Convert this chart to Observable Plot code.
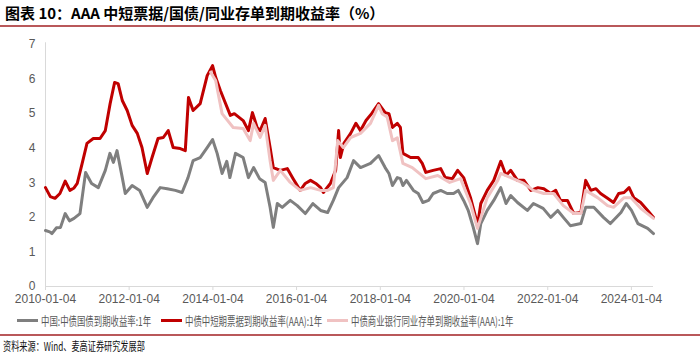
<!DOCTYPE html>
<html>
<head>
<meta charset="utf-8">
<script src="https://cdn.jsdelivr.net/npm/d3@7"></script>
<script src="https://cdn.jsdelivr.net/npm/@observablehq/plot@0.6"></script>
<style>
  html, body { margin: 0; padding: 0; background: #fff; }
  #wrap { position: relative; width: 700px; height: 355px; overflow: hidden; font-family: "Noto Sans CJK SC", sans-serif; }
  #title { position: absolute; left: 5px; top: 3px; font-size: 15px; font-weight: bold; color: #000; white-space: nowrap; line-height: 20px; }
  .rule { position: absolute; left: 0; width: 700px; height: 2px; background: #b9585a; }
  #chart { position: absolute; left: 0; top: 28px; }
  .leg { position: absolute; top: 312px; height: 16px; display: flex; align-items: center; white-space: nowrap; }
  .sw { width: 21px; height: 3px; margin-right: 3px; }
  .lt { font-size: 12px; color: #595959; display: inline-block; transform: scaleX(0.7); transform-origin: left center; }
  #source { position: absolute; left: 3px; top: 338px; font-size: 12px; color: #111; white-space: nowrap; transform: scaleX(0.68); transform-origin: left center; line-height: 16px; }
</style>
</head>
<body>
<div id="wrap">
  <div id="title">图表 10：AAA 中短票据/国债/同业存单到期收益率（%）</div>
  <div class="rule" style="top:25px"></div>
  <div id="chart"></div>
  <div class="leg" style="left:17px"><div class="sw" style="background:#7f7f7f"></div><span class="lt">中国:中债国债到期收益率:1年</span></div>
  <div class="leg" style="left:161px"><div class="sw" style="background:#c00000"></div><span class="lt">中债中短期票据到期收益率(AAA):1年</span></div>
  <div class="leg" style="left:327px"><div class="sw" style="background:#f0c2c2"></div><span class="lt">中债商业银行同业存单到期收益率(AAA):1年</span></div>
  <div class="rule" style="top:334px"></div>
  <div id="source">资料来源：Wind、麦高证券研究发展部</div>
</div>
<script>
// Tick labels
const xTickLabels = ["2010-01-04","2012-01-04","2014-01-04","2016-01-04","2018-01-04","2020-01-04","2022-01-04","2024-01-04"];
const yTickValues = [0,1,2,3,4,5,6,7];

// 中国:中债国债到期收益率:1年
const govDates = ["2010-01-04","2010-02-10","2010-03-01","2010-04-10","2010-05-15","2010-06-25","2010-08-01","2010-09-10","2010-11-01","2010-12-20","2011-02-10","2011-04-10","2011-06-10","2011-07-20","2011-08-20","2011-09-20","2011-11-05","2011-12-01","2012-01-30","2012-04-05","2012-06-10","2012-07-30","2012-10-01","2012-12-01","2013-02-10","2013-04-10","2013-06-01","2013-07-15","2013-09-15","2013-11-15","2014-01-01","2014-02-10","2014-03-25","2014-05-05","2014-06-01","2014-07-20","2014-09-25","2014-11-10","2014-12-25","2015-02-15","2015-04-05","2015-05-18","2015-06-15","2015-07-20","2015-09-01","2015-11-10","2016-01-10","2016-03-20","2016-05-25","2016-08-01","2016-10-01","2016-11-20","2017-01-05","2017-03-20","2017-05-15","2017-07-15","2017-10-10","2017-12-20","2018-02-15","2018-03-20","2018-04-20","2018-06-01","2018-06-28","2018-07-20","2018-08-20","2018-10-20","2018-12-01","2019-01-10","2019-03-01","2019-04-10","2019-06-15","2019-08-10","2019-10-05","2019-11-15","2020-01-01","2020-02-10","2020-03-25","2020-05-01","2020-05-30","2020-07-25","2020-09-20","2020-11-20","2021-01-05","2021-02-15","2021-04-15","2021-07-10","2021-09-01","2021-11-25","2022-01-30","2022-04-01","2022-05-20","2022-07-20","2022-10-20","2022-12-01","2023-02-10","2023-05-05","2023-07-05","2023-10-05","2023-11-20","2024-01-05","2024-03-01","2024-05-25","2024-07-15"];
const govValues = [1.62,1.58,1.53,1.70,1.71,2.11,1.90,1.97,2.11,3.30,2.98,2.86,3.36,3.85,3.59,3.93,3.15,2.69,2.92,2.78,2.29,2.57,2.86,2.83,2.78,2.72,3.15,3.64,3.73,4.02,4.25,3.85,3.27,3.62,3.15,3.85,3.73,3.15,3.44,3.12,3.01,2.29,1.71,2.40,2.29,2.49,2.34,2.11,2.40,2.20,2.14,2.49,2.86,3.15,3.64,3.44,3.56,3.79,3.44,3.27,2.92,3.15,3.12,2.92,3.07,2.78,2.69,2.43,2.49,2.69,2.78,2.69,2.69,2.78,2.49,2.20,1.71,1.24,1.82,2.20,2.49,2.86,2.40,2.63,2.43,2.20,2.40,2.26,2.00,2.20,2.00,1.76,1.82,2.29,2.29,2.00,1.82,2.14,2.40,2.20,1.82,1.68,1.53];

// 中债中短期票据到期收益率(AAA):1年
const cpDates = ["2010-01-04","2010-02-15","2010-03-28","2010-05-10","2010-06-25","2010-08-05","2010-09-10","2010-10-08","2010-11-20","2011-01-01","2011-02-25","2011-04-25","2011-06-10","2011-07-22","2011-08-30","2011-09-30","2011-11-05","2011-12-18","2012-01-30","2012-03-15","2012-04-25","2012-06-10","2012-07-22","2012-09-12","2012-10-28","2012-12-10","2013-01-22","2013-03-25","2013-05-08","2013-06-05","2013-07-15","2013-09-15","2013-11-15","2014-01-01","2014-01-28","2014-03-10","2014-04-20","2014-06-05","2014-07-10","2014-09-25","2014-11-10","2014-12-15","2015-01-25","2015-02-20","2015-04-05","2015-05-18","2015-06-15","2015-08-15","2015-10-15","2015-12-05","2016-02-05","2016-03-20","2016-05-05","2016-06-20","2016-08-01","2016-08-25","2016-10-25","2016-12-10","2017-01-05","2017-01-20","2017-02-20","2017-04-20","2017-06-05","2017-07-15","2017-09-01","2017-10-20","2017-12-20","2018-02-15","2018-03-20","2018-04-20","2018-06-01","2018-06-28","2018-07-20","2018-09-25","2018-12-01","2019-01-05","2019-02-05","2019-04-10","2019-06-15","2019-07-25","2019-09-25","2019-11-10","2020-01-01","2020-03-01","2020-04-15","2020-05-01","2020-05-30","2020-07-25","2020-09-20","2020-11-20","2021-01-05","2021-02-15","2021-04-15","2021-06-10","2021-08-10","2021-10-10","2021-12-01","2022-01-30","2022-03-15","2022-04-25","2022-06-25","2022-08-20","2022-10-20","2022-12-01","2023-01-15","2023-03-01","2023-04-10","2023-06-10","2023-08-01","2023-09-15","2023-11-01","2023-12-15","2024-01-25","2024-03-25","2024-05-25","2024-07-15"];
const cpValues = [2.86,2.60,2.55,2.69,3.05,2.78,2.85,2.98,3.56,4.14,4.28,4.28,4.51,5.29,5.90,5.87,5.38,5.09,4.66,4.43,4.02,3.27,3.73,4.28,4.31,4.51,4.02,3.99,3.93,5.47,5.09,5.29,6.10,6.39,6.05,5.67,5.33,4.95,5.00,4.80,4.51,5.03,4.60,4.51,4.86,4.02,3.44,3.36,3.41,3.12,2.78,2.98,3.07,2.98,2.86,2.72,2.98,3.36,4.51,3.73,4.14,4.43,4.72,4.51,4.80,5.00,5.29,5.03,5.00,4.60,4.72,4.60,3.85,3.73,3.73,3.56,3.30,3.36,3.41,3.15,3.12,3.36,3.15,2.57,2.00,1.76,2.40,2.78,3.07,3.62,3.21,3.36,3.07,3.07,2.78,2.86,2.83,2.69,2.78,2.49,2.49,2.11,2.14,3.07,2.78,2.83,2.69,2.55,2.43,2.69,2.72,2.86,2.57,2.43,2.20,2.00];

// 中债商业银行同业存单到期收益率(AAA):1年
const ncdDates = ["2013-12-15","2014-01-28","2014-03-25","2014-06-30","2014-09-25","2014-11-25","2014-12-25","2015-02-20","2015-04-05","2015-05-18","2015-06-15","2015-08-15","2015-11-10","2016-02-05","2016-05-05","2016-08-01","2016-10-01","2016-11-20","2016-12-28","2017-02-15","2017-04-20","2017-07-15","2017-10-10","2017-12-20","2018-01-20","2018-03-05","2018-04-20","2018-06-01","2018-07-20","2018-10-10","2019-02-05","2019-05-20","2019-09-01","2019-12-05","2020-03-01","2020-05-01","2020-07-25","2020-10-25","2020-11-20","2021-02-15","2021-06-10","2021-09-01","2021-12-01","2022-02-25","2022-05-20","2022-08-20","2022-10-20","2022-12-01","2023-03-15","2023-06-10","2023-08-01","2023-11-01","2024-01-01","2024-03-25","2024-07-15"];
const ncdValues = [6.20,5.96,5.00,4.60,4.57,4.22,4.72,4.31,4.66,3.64,3.07,3.36,3.01,2.78,2.86,2.78,2.78,2.86,4.22,4.02,4.31,4.43,4.72,5.24,5.00,4.90,4.22,4.30,3.56,3.44,3.12,3.21,3.01,3.12,2.40,1.68,2.57,3.07,3.27,3.15,2.98,2.78,2.69,2.69,2.34,2.11,2.11,2.78,2.57,2.34,2.29,2.57,2.57,2.26,1.97];

const toRows = (dates, values) => dates.map((d, i) => ({date: new Date(d), value: values[i]}));
const gov = toRows(govDates, govValues);
const cp = toRows(cpDates, cpValues);
const ncd = toRows(ncdDates, ncdValues);

const chart = Plot.plot({
  width: 700,
  height: 282,
  marginLeft: 45,
  marginRight: 47,
  marginTop: 16,
  marginBottom: 24,
  style: {fontFamily: "'Liberation Sans', Arial, sans-serif", background: "#fff"},
  x: {type: "utc", domain: [new Date(govDates[0]), new Date(govDates[govDates.length - 1])]},
  y: {domain: [0, 7]},
  marks: [
    Plot.ruleY([0], {stroke: "#d9d9d9"}),
    Plot.ruleX([new Date(govDates[0])], {stroke: "#d9d9d9", y1: 0, y2: 7.05}),
    Plot.axisX({ticks: xTickLabels.map(d => new Date(d)), tickFormat: d3.utcFormat("%Y-%m-%d"), tickSize: 4, tickPadding: 4, stroke: "#d9d9d9", fill: "#595959", fontSize: 12, label: null}),
    Plot.axisY({ticks: yTickValues, tickFormat: d => String(d), tickSize: 0, tickPadding: 10, fill: "#595959", fontSize: 12, label: null}),
    Plot.lineY(gov, {x: "date", y: "value", stroke: "#7f7f7f", strokeWidth: 3}),
    Plot.lineY(cp, {x: "date", y: "value", stroke: "#c00000", strokeWidth: 3}),
    Plot.lineY(ncd, {x: "date", y: "value", stroke: "#f0c2c2", strokeWidth: 3})
  ]
});
document.getElementById("chart").appendChild(chart);
</script>
</body>
</html>
